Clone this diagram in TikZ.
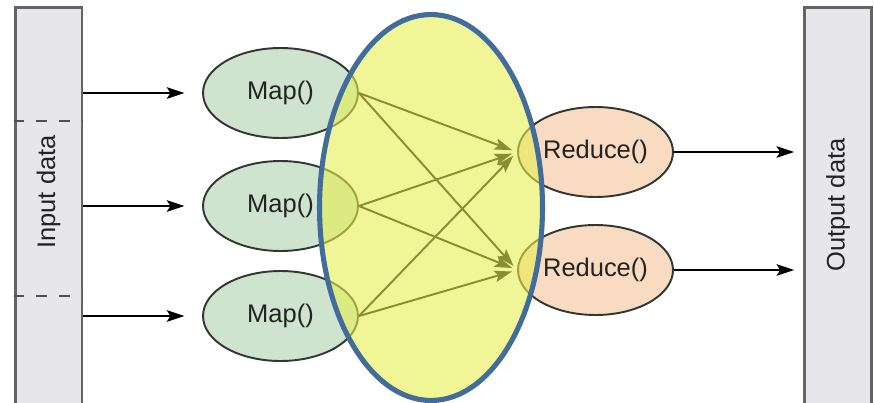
\documentclass[tikz,border=0pt]{standalone}
\usepackage{fontspec}
\setmainfont{Liberation Sans}
\usepackage{tikz}
\usetikzlibrary{shapes.geometric,arrows.meta}

\definecolor{barfill}{RGB}{230,230,235}
\definecolor{bargray}{RGB}{100,100,100}
\definecolor{mapfill}{RGB}{206,228,206}
\definecolor{redfill}{RGB}{248,219,192}
\definecolor{edgegray}{RGB}{50,55,50}
\definecolor{txtgray}{RGB}{35,35,35}
\definecolor{hilite}{RGB}{230,238,80}
\definecolor{hiblue}{RGB}{65,108,155}

\tikzset{
  bar/.style={draw=bargray, line width=1.7pt, fill=barfill, minimum width=1.34cm, minimum height=8.3cm, inner sep=0pt},
  worker/.style={ellipse, draw=edgegray, line width=1.1pt, minimum width=3.1cm, minimum height=1.8cm, inner sep=0pt, text=txtgray},
  flow/.style={line width=1.2pt, -{Stealth[length=10pt,width=6.5pt,inset=2pt]}},
  barlabel/.style={rotate=90, text=txtgray}
}

\begin{document}
\begin{tikzpicture}[x=0.02cm, y=-0.02cm, font=\fontsize{14.5}{17}\selectfont]
			\clip (0,0) rectangle (874,402);
			\useasboundingbox (0,0) rectangle (874,402);
			% bars
			\node[bar] (input) at (48.5,215) {};
			\node[bar] (output) at (838,215) {};
			\node[barlabel] (inlabel) at (48.5,192) {Input data};
			\node[barlabel] (outlabel) at (838,205) {Output data};
			\draw[bargray!80!black, line width=1.5pt, dash pattern=on 6pt off 7pt] (input.west |- 0,121) -- (input.east |- 0,121);
			\draw[bargray!80!black, line width=1.5pt, dash pattern=on 6pt off 7pt] (input.west |- 0,296) -- (input.east |- 0,296);
			% map and reduce
			\foreach \n/\y in {1/93,2/206,3/316}
				\node[worker, fill=mapfill] (map\n) at (280.5,\y) {Map()};
			\foreach \n/\y in {1/152,2/270}
				\node[worker, fill=redfill] (red\n) at (595.5,\y) {Reduce()};
			\foreach \n in {1,2,3}
				\draw[flow] (input.east |- map\n) -- ([xshift=-10]map\n.west);
			\foreach \n in {1,2}
				\draw[flow] (red\n) -- ([xshift=-5]output.west |- red\n);
			\foreach \m in {1,2,3}
				\foreach \r in {1,2}
					\draw[flow, line width=1.1pt, shorten >=3pt] (map\m.east) -- (red\r.west);
			% shuffle highlight
			\node[ellipse, draw=hiblue, line width=2.9pt, fill=hilite, fill opacity=0.6, draw opacity=1, minimum width=4.46cm, minimum height=7.72cm, inner sep=0pt] (shuffle) at (431,207.5) {};
		\end{tikzpicture}
\end{document}
